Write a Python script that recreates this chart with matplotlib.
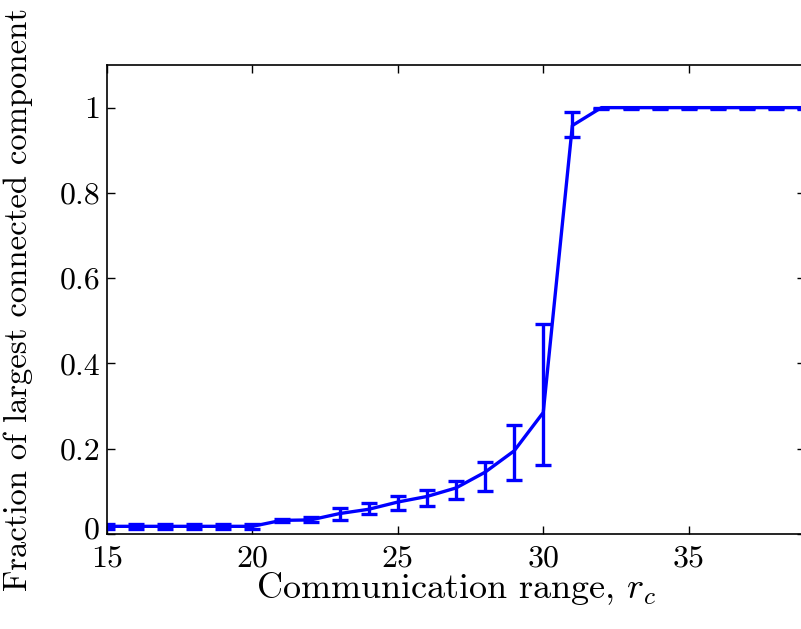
import matplotlib
matplotlib.use("Agg")
import matplotlib.pyplot as plt
import matplotlib.transforms as mtransforms

plt.rcParams['font.family'] = ['cmr10', 'DejaVu Serif']
plt.rcParams['mathtext.fontset'] = 'cm'
plt.rcParams['axes.formatter.use_mathtext'] = True

comm_range = [15, 16, 17, 18, 19, 20, 21, 22, 23, 24, 25, 26, 27,
              28, 29, 30, 31, 32, 33, 34, 35, 36, 37, 38, 39]
fraction = [0.018, 0.018, 0.018, 0.018, 0.018, 0.018, 0.032, 0.033, 0.048, 0.058,
            0.075, 0.088, 0.108, 0.145, 0.195, 0.285, 0.958, 1.0, 1.0, 1.0,
            1.0, 1.0, 1.0, 1.0, 1.0]
err_low = [0.012, 0.012, 0.012, 0.012, 0.012, 0.012, 0.028, 0.027, 0.033, 0.046,
           0.056, 0.066, 0.082, 0.101, 0.126, 0.162, 0.931, 0.997, 0.997, 0.997,
           0.997, 0.997, 0.997, 0.997, 0.997]
err_high = [0.024, 0.024, 0.024, 0.024, 0.024, 0.024, 0.036, 0.039, 0.062, 0.072,
            0.090, 0.104, 0.125, 0.169, 0.255, 0.492, 0.990, 1.0, 1.0, 1.0,
            1.0, 1.0, 1.0, 1.0, 1.0]

x_ticks = [15, 20, 25, 30, 35]
x_tick_labels = ['15', '20', '25', '30', '35']
y_ticks = [0, 0.2, 0.4, 0.6, 0.8, 1.0]
y_tick_labels = ['0', '0.2', '0.4', '0.6', '0.8', '1']

fig = plt.figure(figsize=(8.01, 6.29), dpi=100)
ax = fig.add_axes([107/801, 95/629, (805-107)/801, (534-65)/629])

yerr = [[f - lo for f, lo in zip(fraction, err_low)],
        [hi - f for f, hi in zip(fraction, err_high)]]
ax.errorbar(comm_range, fraction, yerr=yerr, color='#0000ff', lw=2.4,
            elinewidth=2.4, capsize=6, capthick=2.4)

ax.set_xlim(15, 39)
ax.set_ylim(0, 1.1)
ax.set_xticks(x_ticks)
ax.set_xticklabels(x_tick_labels)
ax.set_yticks(y_ticks)
ax.set_yticklabels(y_tick_labels)
ax.tick_params(direction='in', length=6, width=1, top=True, right=True,
               labelsize=23)
ax.tick_params(axis='x', pad=8)
ax.tick_params(axis='y', pad=5)
for s in ax.spines.values():
    s.set_linewidth(1.2)

# raise the "0" y tick label slightly, as in the reference
zero_lbl = ax.get_yticklabels()[0]
zero_lbl.set_transform(zero_lbl.get_transform() +
                       mtransforms.ScaledTranslation(0, 6/100, fig.dpi_scale_trans))

ax.set_xlabel('Communication range, $r_c$', fontsize=26, labelpad=-2)
ax.set_ylabel('Fraction of largest connected component', fontsize=23.5, labelpad=19)

fig.savefig('out.png', dpi=100)
